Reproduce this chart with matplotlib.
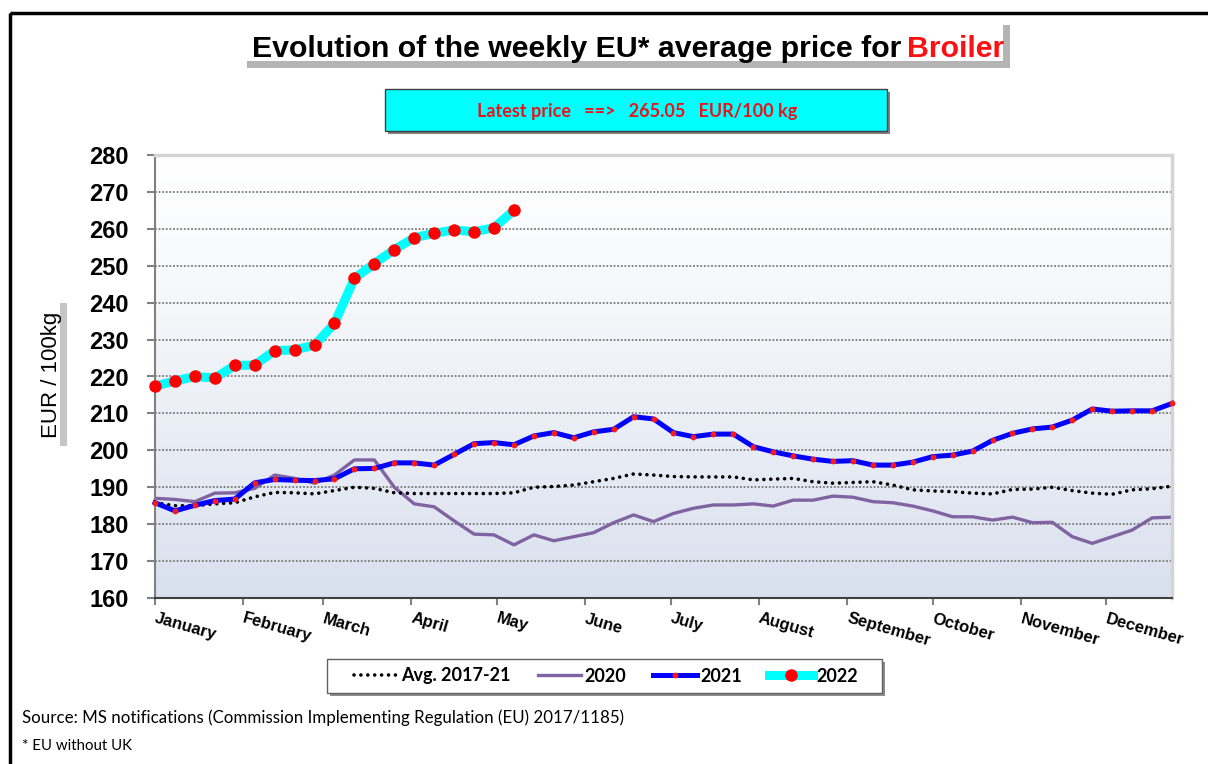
import numpy as np
import matplotlib
matplotlib.use("Agg")
import matplotlib.pyplot as plt
from matplotlib.colors import LinearSegmentedColormap
from matplotlib.patches import Rectangle
from matplotlib.transforms import blended_transform_factory, offset_copy

# weekly prices, EUR/100 kg
weeks = np.arange(1, 53)

avg_2017_21 = [
    185.8, 185.0, 185.0, 185.5, 185.8, 187.4, 188.6, 188.5, 188.2, 189.1,
    190.0, 189.7, 188.5, 188.3, 188.3, 188.3, 188.3, 188.3, 188.5, 190.0,
    190.2, 190.6, 191.5, 192.4, 193.6, 193.3, 192.9, 192.8, 192.8, 192.8,
    192.0, 192.2, 192.4, 191.5, 191.1, 191.3, 191.5, 190.6, 189.3, 189.0,
    188.8, 188.4, 188.2, 189.4, 189.5, 190.0, 189.1, 188.4, 188.1, 189.3,
    189.6, 190.3,
]
price_2020 = [
    187.0, 186.7, 186.1, 188.4, 188.5, 189.7, 193.3, 192.4, 191.1, 193.3,
    197.4, 197.4, 190.0, 185.5, 184.7, 180.9, 177.3, 177.1, 174.4, 177.1,
    175.5, 176.6, 177.7, 180.4, 182.5, 180.7, 182.9, 184.3, 185.2, 185.2,
    185.5, 184.9, 186.5, 186.5, 187.6, 187.3, 186.1, 185.8, 184.9, 183.6,
    182.0, 182.0, 181.1, 181.9, 180.4, 180.5, 176.6, 174.8, 176.6, 178.4,
    181.7, 181.9,
]
price_2021 = [
    185.8, 183.6, 185.1, 186.4, 186.8, 191.2, 192.1, 191.9, 191.8, 192.3,
    195.0, 195.1, 196.6, 196.6, 196.0, 198.9, 201.8, 202.1, 201.5, 203.9,
    204.8, 203.4, 205.0, 205.7, 209.1, 208.5, 204.8, 203.7, 204.4, 204.4,
    201.0, 199.6, 198.5, 197.6, 197.0, 197.2, 196.0, 196.0, 196.8, 198.3,
    198.7, 199.8, 202.7, 204.6, 205.8, 206.3, 208.2, 211.2, 210.6, 210.7,
    210.7, 212.7,
]
price_2022 = [
    217.4, 218.8, 220.0, 219.6, 223.0, 223.1, 227.0, 227.2, 228.5, 234.4,
    246.6, 250.6, 254.4, 257.6, 258.8, 259.7, 259.2, 260.3, 265.05,
]

months = ["January", "February", "March", "April", "May", "June", "July",
          "August", "September", "October", "November", "December"]
month_first_day = [0, 31, 59, 90, 120, 151, 181, 212, 243, 273, 304, 334]
yticks = list(range(160, 281, 10))

latest = price_2022[-1]
change = 31.1  # as printed on the source chart

W, H = 1208, 764
plt.rcParams["font.family"] = ["Liberation Sans", "DejaVu Sans"]
CALIBRI = ["Lato", "DejaVu Sans"]

fig = plt.figure(figsize=(W / 100, H / 100), dpi=100)

# decoration layer in pixel coordinates (y down)
deco = fig.add_axes([0, 0, 1, 1])
deco.set_xlim(0, W)
deco.set_ylim(H, 0)
deco.axis("off")


def shadow_box(x0, y0, x1, y1, face, edge="none", shade=4, shade_color="#a8a8a8"):
    deco.add_patch(Rectangle((x0 + shade, y0 + shade), x1 - x0, y1 - y0,
                             fc=shade_color, ec="none"))
    deco.add_patch(Rectangle((x0, y0), x1 - x0, y1 - y0, fc=face, ec=edge, lw=1))


# page frame (only top and left edges are visible in the crop)
deco.add_patch(Rectangle((9.5, 13), W, H, fill=False, ec="black", lw=2.5))

# title with bevelled backdrop
deco.add_patch(Rectangle((247, 25), 763, 43, fc="#b4b4b4", ec="none"))
deco.add_patch(Rectangle((247, 25), 756, 36, fc="white", ec="none"))
t1 = deco.text(252, 49, "Evolution of the weekly EU* average price for",
               fontsize=21.8, fontweight="bold", ha="left", va="center")
deco.annotate("Broiler", xy=(1, 0.5), xycoords=t1, xytext=(6, 0),
              textcoords="offset pixels", fontsize=21.8, fontweight="bold",
              color="#ff1010", ha="left", va="center")

# latest price box
shadow_box(385, 89, 887, 131, "#00ffff", edge="#404040", shade=3, shade_color="#808080")
deco.text(637, 112, f"Latest price   ==>   {latest:.2f}   EUR/100 kg",
          family=CALIBRI, fontsize=13, fontweight="bold", color="#e8141c",
          ha="center", va="center")

# y label box
deco.add_patch(Rectangle((35, 303), 32, 143, fc="#c4c4c4", ec="none"))
deco.add_patch(Rectangle((35, 303), 25, 143, fc="white", ec="none"))
deco.text(52, 375, "EUR / 100kg", rotation=90, fontsize=16, ha="center", va="center")

# comparison note
deco.text(517, 183,
          f"Evolution compared same period last year    (Week 19) : + {change:.1f}%",
          fontsize=10.6, fontweight="bold", color="#1a1aff", ha="left", va="center")

# source notes
deco.text(22, 718,
          "Source: MS notifications (Commission Implementing Regulation (EU) 2017/1185)",
          family=CALIBRI, fontsize=12.2, ha="left", va="center")
deco.text(22, 746, "* EU without UK", family=CALIBRI, fontsize=10.8,
          ha="left", va="center")

# legend frame
shadow_box(327, 659, 882, 693, "white", edge="#606060", shade=3, shade_color="#8c8c8c")

# main plot
ax = fig.add_axes([155 / W, 1 - 598 / H, 1017 / W, 443 / H])
ax.set_facecolor("none")

grad = np.linspace(0, 1, 256).reshape(-1, 1) ** 1.2
cmap = LinearSegmentedColormap.from_list("bg", ["#ffffff", "#d9e0ee"])
ax.imshow(grad, extent=[0, 51, 160, 280], origin="upper", aspect="auto",
          cmap=cmap, zorder=0)

for y in yticks[1:-1]:
    ax.axhline(y, color="#7a7a7a", lw=1.3, ls=(0, (1, 1)), zorder=1)

x = weeks - 1
l20, = ax.plot(x, price_2020, color="#8064a2", lw=2.4, zorder=2, label="2020")
lavg, = ax.plot(x, avg_2017_21, color="black", lw=2.6, ls=(0, (0.01, 1.9)),
                dash_capstyle="round", zorder=3, label="Avg. 2017-21")
l21, = ax.plot(x, price_2021, color="#0000ff", lw=3.6, marker="o", ms=4.2,
               mfc="#ff1a1a", mec="#ff1a1a", mew=0, zorder=4, clip_on=False,
               label="2021")
l22, = ax.plot(x[:len(price_2022)], price_2022, color="#00ffff", lw=6.5,
               marker="o", ms=9, mfc="#ff0000", mec="#ff0000", mew=0,
               zorder=5, clip_on=False, label="2022")

ax.set_xlim(0, 51)
ax.set_ylim(160, 280)
ax.set_yticks(yticks)
ax.set_xticks([d / 7 for d in month_first_day])
ax.set_xticklabels([])
ax.tick_params(axis="y", labelsize=17, pad=13, length=6, width=1.5,
               color="#808080", direction="out")
ax.tick_params(axis="x", length=5, width=1.5, color="#808080", direction="out")
for lab in ax.get_yticklabels():
    lab.set_fontweight("bold")

ax.spines["left"].set_color("#808080")
ax.spines["left"].set_linewidth(1.5)
ax.spines["bottom"].set_color("#404040")
ax.spines["bottom"].set_linewidth(1.5)
for side in ("top", "right"):
    ax.spines[side].set_color("#d4d4d4")
    ax.spines[side].set_linewidth(2.5)

trans = offset_copy(blended_transform_factory(ax.transData, ax.transAxes),
                    fig=fig, x=2, y=-13, units="dots")
for name, day in zip(months, month_first_day):
    ax.text(day / 7, 0, name, transform=trans, rotation=-16,
            rotation_mode="anchor", ha="left", va="top",
            fontsize=12, fontweight="bold")

leg = fig.legend(handles=[lavg, l20, l21, l22], ncol=4, loc="center",
                 bbox_to_anchor=(606 / W, 1 - 676 / H),
                 prop={"family": CALIBRI, "weight": "bold", "size": 13},
                 frameon=False, handlelength=2.4, handletextpad=0.2,
                 columnspacing=1.5, numpoints=1)

fig.savefig("out.png", dpi=100)
